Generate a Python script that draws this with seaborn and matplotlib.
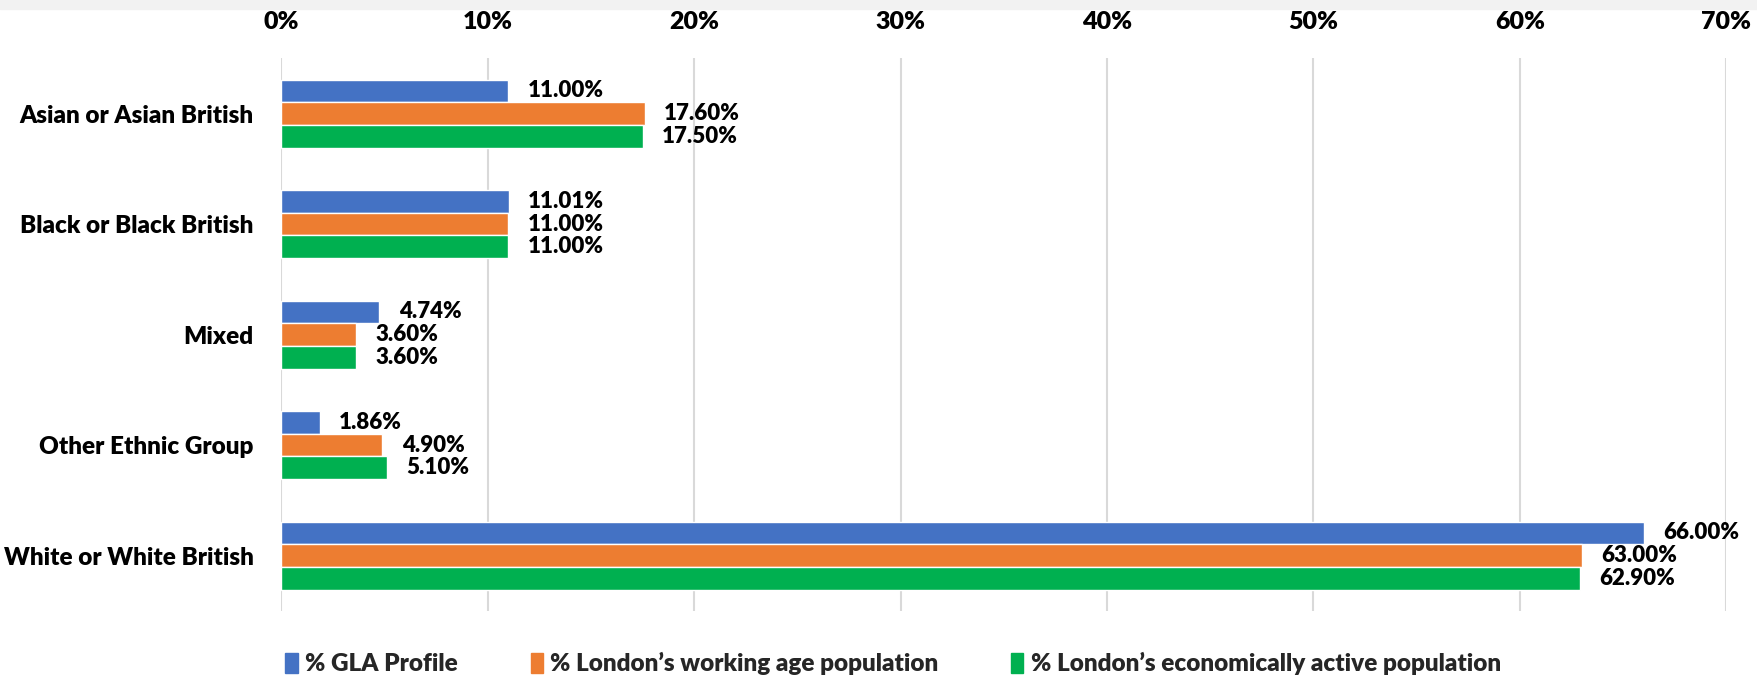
import matplotlib
matplotlib.use("Agg")
import matplotlib.pyplot as plt
from matplotlib.patches import Patch, Rectangle
from matplotlib.ticker import PercentFormatter
import pandas as pd
import seaborn as sns

# values
groups = ["Asian or Asian British", "Black or Black British", "Mixed",
          "Other Ethnic Group", "White or White British"]
series = ["% GLA Profile", "% London\u2019s working age population",
          "% London\u2019s economically active population"]
gla_profile = [11.00, 11.01, 4.74, 1.86, 66.00]
working_age = [17.60, 11.00, 3.60, 4.90, 63.00]
econ_active = [17.50, 11.00, 3.60, 5.10, 62.90]
colors = ["#4472C4", "#ED7D31", "#00B050"]

df = pd.DataFrame({
    "group": groups * 3,
    "series": [series[0]] * 5 + [series[1]] * 5 + [series[2]] * 5,
    "value": gla_profile + working_age + econ_active,
})

sns.set_theme(style="white")
plt.rcParams["font.family"] = ["Lato", "DejaVu Sans"]
plt.rcParams["font.weight"] = "bold"

fig = plt.figure(figsize=(17.58, 6.78), dpi=100)
ax = fig.add_axes([0.16, 0.099, 0.822, 0.815])

sns.barplot(data=df, y="group", x="value", hue="series", order=groups,
            hue_order=series, palette=colors, orient="h", width=0.615,
            saturation=1, legend=False, ax=ax)

for cont in ax.containers:
    ax.bar_label(cont, labels=[f"{v:.2f}%" for v in cont.datavalues],
                 padding=14, fontsize=16, fontweight="heavy", color="#000000")

ax.set_xlim(0, 70)
ax.set_xticks(range(0, 71, 10))
ax.xaxis.set_major_formatter(PercentFormatter(decimals=0))
ax.xaxis.tick_top()
ax.tick_params(axis="x", length=0, pad=18, labelsize=18, labelcolor="#000000")
ax.tick_params(axis="y", length=0, pad=20, labelsize=17.5, labelcolor="#000000")
for lbl in ax.get_xticklabels() + ax.get_yticklabels():
    lbl.set_fontweight("heavy")
ax.set_xlabel("")
ax.set_ylabel("")
ax.grid(axis="x", color="#D9D9D9", linewidth=1.5)
ax.set_axisbelow(True)
for s in ax.spines.values():
    s.set_visible(False)

handles = [Patch(color=c, label=s) for c, s in zip(colors, series)]
fig.legend(handles=handles, loc="center", bbox_to_anchor=(0.508, 0.021),
           ncol=3, frameon=False, handlelength=0.5,
           handleheight=0.9, handletextpad=0.3, columnspacing=3.0,
           prop={"weight": "heavy", "size": 17.5})

# thin grey band along the top edge
fig.add_artist(Rectangle((0, 0.987), 1, 0.013, transform=fig.transFigure,
                         color="#F2F2F2", zorder=0))

fig.savefig("out.png", dpi=100)
